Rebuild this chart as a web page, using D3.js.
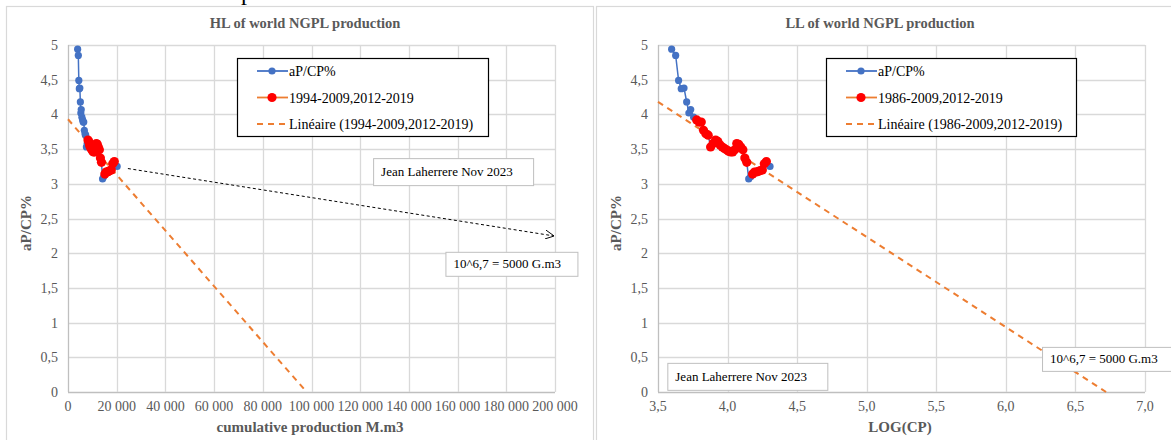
<!DOCTYPE html>
<html>
<head>
<meta charset="utf-8">
<script src="https://cdn.jsdelivr.net/npm/d3@7"></script>
<style>
body { margin: 0; background: #fff; }
text { font-family: "Liberation Serif", "Times New Roman", serif; }
</style>
</head>
<body>
<svg width="1171" height="440"></svg>
<script>
// world NGPL : annual production / cumulative production (%)
var years = [1977, 1978, 1979, 1980, 1981, 1982, 1983, 1984, 1985, 1986,
             1987, 1988, 1989, 1990, 1991, 1992, 1993, 1994, 1995, 1996,
             1997, 1998, 1999, 2000, 2001, 2002, 2003, 2004, 2005, 2006,
             2007, 2008, 2009, 2010, 2011, 2012, 2013, 2014, 2015, 2016,
             2017, 2018, 2019, 2020];
// cumulative production M.m3
var cumProd = [3963, 4236, 4446, 4645, 4864, 5082, 5272, 5433, 5702, 5998,
               6237, 6471, 6714, 6982, 7261, 7551, 7870, 8204, 8511, 8831,
               9162, 9484, 9817, 10162, 10520, 10889, 11272, 11641, 12023, 12445,
               12882, 13305, 13740, 14191, 14655, 15136, 15631, 16144, 16672, 17219,
               17783, 18365, 19011, 20184];
var apcp = [4.94, 4.85, 4.49, 4.37, 4.38, 4.18, 4.02, 4.07, 3.96, 3.92,
            3.89, 3.89, 3.77, 3.72, 3.70, 3.53, 3.58, 3.63, 3.61, 3.56,
            3.53, 3.51, 3.49, 3.47, 3.46, 3.46, 3.49, 3.58, 3.57, 3.53,
            3.49, 3.37, 3.31, 3.07, 3.10, 3.14, 3.17, 3.17, 3.18, 3.19,
            3.20, 3.29, 3.32, 3.25];

var hlFitYears = [[1994, 2009], [2012, 2019]];
var llFitYears = [[1986, 2009], [2012, 2019]];

// trend lines: y = a + b*x
var hlTrend = { a: 3.93, b: -3.93 / 98000 };
var llTrend = { a: 8.723, b: -1.298 };

var yTicks = [0, 0.5, 1, 1.5, 2, 2.5, 3, 3.5, 4, 4.5, 5];
var hlXTicks = [0, 20000, 40000, 60000, 80000, 100000, 120000, 140000, 160000, 180000, 200000];
var llXTicks = [3.5, 4.0, 4.5, 5.0, 5.5, 6.0, 6.5, 7.0];

var svg = d3.select('svg');

var defs = svg.append('defs');
defs.append('marker')
    .attr('id', 'arr')
    .attr('viewBox', '0 0 10 10')
    .attr('refX', 9).attr('refY', 5)
    .attr('markerWidth', 9).attr('markerHeight', 9)
    .attr('markerUnits', 'userSpaceOnUse')
    .attr('orient', 'auto')
    .append('path')
    .attr('d', 'M0,0 L10,5 L0,10')
    .attr('fill', 'none')
    .attr('stroke', '#000')
    .attr('stroke-width', 1);

// piece of text from above, cut off at the top
svg.append('text')
    .attr('x', 241).attr('y', 0)
    .attr('font-size', 24)
    .attr('fill', '#000')
    .text('p');

function inFit(yr, ranges) {
  return ranges.some(function(r) { return yr >= r[0] && yr <= r[1]; });
}

function yFmt(d) { return String(d).replace('.', ','); }

function drawPanel(o) {
  var g = svg.append('g');

  g.append('rect')
      .attr('x', o.box[0] + 0.5).attr('y', 6.5)
      .attr('width', o.box[1]).attr('height', 460)
      .attr('fill', '#fff')
      .attr('stroke', '#d9d9d9')
      .attr('stroke-width', 1.2);

  var x = d3.scaleLinear().domain(o.xDomain).range([o.left, o.left + 487]);
  var y = d3.scaleLinear().domain([0, 5]).range([392, 45]);

  // grid
  g.selectAll('.gy').data(yTicks).enter().append('line')
      .attr('x1', x(o.xDomain[0])).attr('x2', x(o.xDomain[1]))
      .attr('y1', function(d) { return Math.round(y(d)) + 0.5; })
      .attr('y2', function(d) { return Math.round(y(d)) + 0.5; })
      .attr('stroke', function(d) { return d === 0 ? '#bfbfbf' : '#d9d9d9'; })
      .attr('stroke-width', 1.3);
  g.selectAll('.gx').data(o.xTicks).enter().append('line')
      .attr('x1', function(d) { return Math.round(x(d)) + 0.5; })
      .attr('x2', function(d) { return Math.round(x(d)) + 0.5; })
      .attr('y1', y(5)).attr('y2', y(0))
      .attr('stroke', function(d, i) { return i === 0 ? '#bfbfbf' : '#d9d9d9'; })
      .attr('stroke-width', 1.3);

  // tick labels
  g.selectAll('.ty').data(yTicks).enter().append('text')
      .attr('x', o.left - 10)
      .attr('y', function(d) { return y(d) + 5; })
      .attr('text-anchor', 'end')
      .attr('font-size', 14)
      .attr('fill', '#595959')
      .text(yFmt);
  g.selectAll('.tx').data(o.xTicks).enter().append('text')
      .attr('x', function(d) { return x(d); })
      .attr('y', 411)
      .attr('text-anchor', 'middle')
      .attr('font-size', 14)
      .attr('fill', '#595959')
      .text(o.xFmt);

  // titles
  g.append('text')
      .attr('x', o.titleX).attr('y', 28)
      .attr('text-anchor', 'middle')
      .attr('font-size', 14.5).attr('font-weight', 'bold')
      .attr('fill', '#595959')
      .text(o.title);
  g.append('text')
      .attr('x', o.xTitleX).attr('y', 432)
      .attr('text-anchor', 'middle')
      .attr('font-size', 15).attr('font-weight', 'bold')
      .attr('fill', '#595959')
      .text(o.xTitle);
  g.append('text')
      .attr('transform', 'translate(' + (o.box[0] + 25) + ',223) rotate(-90)')
      .attr('text-anchor', 'middle')
      .attr('font-size', 15).attr('font-weight', 'bold')
      .attr('fill', '#595959')
      .text('aP/CP%');

  // trend line, from left edge down to zero
  var t = o.trend;
  var xEnd = -t.a / t.b;
  g.append('line')
      .attr('x1', x(o.xDomain[0])).attr('y1', y(t.a + t.b * o.xDomain[0]))
      .attr('x2', x(xEnd)).attr('y2', y(0))
      .attr('stroke', '#ed7d31')
      .attr('stroke-width', 2)
      .attr('stroke-dasharray', '6,5');

  var pts = years.map(function(yr, i) {
    return { yr: yr, x: o.xVal(cumProd[i]), y: apcp[i] };
  });

  var line = d3.line()
      .x(function(d) { return x(d.x); })
      .y(function(d) { return y(d.y); });

  g.append('path')
      .datum(pts)
      .attr('d', line)
      .attr('fill', 'none')
      .attr('stroke', '#4472c4')
      .attr('stroke-width', 1.5);
  g.selectAll('.pb').data(pts).enter().append('circle')
      .attr('cx', function(d) { return x(d.x); })
      .attr('cy', function(d) { return y(d.y); })
      .attr('r', 3.6)
      .attr('fill', '#4472c4');
  g.selectAll('.pr').data(pts.filter(function(d) { return inFit(d.yr, o.fit); }))
      .enter().append('circle')
      .attr('cx', function(d) { return x(d.x); })
      .attr('cy', function(d) { return y(d.y); })
      .attr('r', 4.6)
      .attr('fill', '#ff0000');

  // legend
  var lg = g.append('g').attr('transform', 'translate(' + o.legend[0] + ',58)');
  lg.append('rect')
      .attr('x', 0.5).attr('y', 0.5)
      .attr('width', o.legend[1]).attr('height', 78)
      .attr('fill', '#fff')
      .attr('stroke', '#000').attr('stroke-width', 1.2);
  var items = [
    { label: 'aP/CP%', line: '#4472c4', dot: '#4472c4', r: 3.6, dash: null },
    { label: o.fitLabel, line: '#ed7d31', dot: '#ff0000', r: 4.6, dash: null },
    { label: 'Linéaire (' + o.fitLabel + ')', line: '#ed7d31', dot: null, dash: '6,5' }
  ];
  items.forEach(function(it, i) {
    var cy = 13 + i * 26.5;
    lg.append('line')
        .attr('x1', 20).attr('x2', 51)
        .attr('y1', cy).attr('y2', cy)
        .attr('stroke', it.line)
        .attr('stroke-width', it.dash ? 2 : 1.8)
        .attr('stroke-dasharray', it.dash);
    if (it.dot) {
      lg.append('circle').attr('cx', 35).attr('cy', cy).attr('r', it.r).attr('fill', it.dot);
    }
    lg.append('text')
        .attr('x', 52).attr('y', cy + 5)
        .attr('font-size', 14)
        .attr('fill', '#000')
        .text(it.label);
  });

  // text boxes
  o.notes.forEach(function(n) {
    g.append('rect')
        .attr('x', x(n.x) + 0.5).attr('y', y(n.y) + 0.5)
        .attr('width', n.w).attr('height', n.h)
        .attr('fill', '#fff')
        .attr('stroke', '#bfbfbf');
    g.append('text')
        .attr('x', x(n.x) + 8).attr('y', y(n.y) + n.h / 2 + 4.5)
        .attr('font-size', 13)
        .attr('fill', '#000')
        .text(n.text);
  });

  if (o.arrow) {
    g.append('line')
        .attr('x1', x(o.arrow[0][0])).attr('y1', y(o.arrow[0][1]))
        .attr('x2', x(o.arrow[1][0])).attr('y2', y(o.arrow[1][1]))
        .attr('stroke', '#000')
        .attr('stroke-width', 1)
        .attr('stroke-dasharray', '3,2.5')
        .attr('marker-end', 'url(#arr)');
  }
}

drawPanel({
  box: [6, 587],
  left: 68,
  xDomain: [0, 200000],
  xTicks: hlXTicks,
  xFmt: function(d) { return d3.format(',')(d).replace(/,/g, ' '); },
  xVal: function(cp) { return cp; },
  title: 'HL of world NGPL production',
  titleX: 305,
  xTitle: 'cumulative production M.m3',
  xTitleX: 310,
  trend: hlTrend,
  fit: hlFitYears,
  fitLabel: '1994-2009,2012-2019',
  legend: [237, 251],
  notes: [
    { text: 'Jean Laherrere Nov 2023', x: 125300, y: 3.37, w: 160, h: 27 },
    { text: '10^6,7 = 5000 G.m3', x: 155000, y: 2.02, w: 132, h: 24 }
  ],
  arrow: [[24600, 3.22], [199300, 2.25]]
});

drawPanel({
  box: [596, 600],
  left: 658,
  xDomain: [3.5, 7.0],
  xTicks: llXTicks,
  xFmt: function(d) { return d3.format('.1f')(d).replace('.', ','); },
  xVal: function(cp) { return Math.log10(cp); },
  title: 'LL of world NGPL production',
  titleX: 880,
  xTitle: 'LOG(CP)',
  xTitleX: 900,
  trend: llTrend,
  fit: llFitYears,
  fitLabel: '1986-2009,2012-2019',
  legend: [826, 250],
  notes: [
    { text: 'Jean Laherrere Nov 2023', x: 3.567, y: 0.42, w: 160, h: 27 },
    { text: '10^6,7 = 5000 G.m3', x: 6.26, y: 0.65, w: 132, h: 24 }
  ],
  arrow: null
});
</script>
</body>
</html>
